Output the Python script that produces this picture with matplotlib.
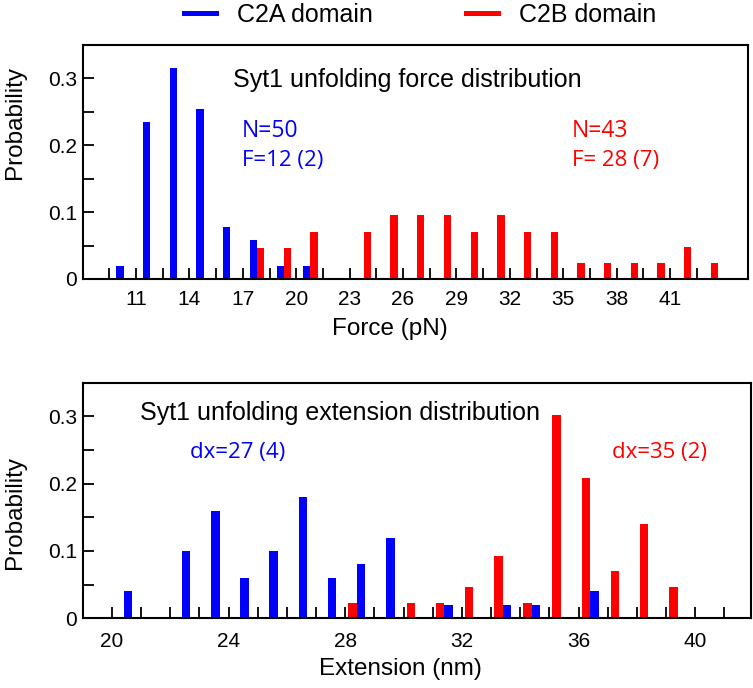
import matplotlib
matplotlib.use("Agg")
import matplotlib.pyplot as plt
from matplotlib.lines import Line2D
from matplotlib.ticker import FixedLocator, FuncFormatter
import numpy as np

plt.rcParams['font.family'] = ['Liberation Sans', 'DejaVu Sans']

# force histogram (pN), probability
c2a_force = [10.1, 11.6, 13.1, 14.6, 16.1, 17.6, 19.1, 20.6]
c2a_force_p = [0.02, 0.235, 0.315, 0.255, 0.078, 0.059, 0.02, 0.02]
c2b_force = [18.0, 19.5, 21.0, 24.0, 25.5, 27.0, 28.5, 30.0, 31.5, 33.0,
             34.5, 36.0, 37.5, 39.0, 40.5, 42.0, 43.5]
c2b_force_p = [0.047, 0.047, 0.071, 0.071, 0.095, 0.095, 0.095, 0.071, 0.095, 0.071,
               0.071, 0.024, 0.024, 0.024, 0.024, 0.048, 0.024]

# extension histogram (nm), probability
c2a_ext = [20.55, 22.55, 23.55, 24.55, 25.55, 26.55, 27.55, 28.55, 29.55,
           31.55, 33.55, 34.55, 36.55]
c2a_ext_p = [0.04, 0.10, 0.16, 0.06, 0.10, 0.18, 0.06, 0.08, 0.12,
             0.02, 0.02, 0.02, 0.04]
c2b_ext = [28.25, 30.25, 31.25, 32.25, 33.25, 34.25, 35.25, 36.25, 37.25, 38.25, 39.25]
c2b_ext_p = [0.023, 0.023, 0.023, 0.046, 0.093, 0.023, 0.302, 0.209, 0.07, 0.14, 0.046]

force_labels = [11, 14, 17, 20, 23, 26, 29, 32, 35, 38, 41]
ext_labels = [20, 24, 28, 32, 36, 40]

BLUE = '#0000ff'
RED = '#ff0000'
annot_font = ['Open Sans', 'DejaVu Sans']

fig = plt.figure(figsize=(7.53, 6.88), dpi=100)
ax1 = fig.add_axes([0.1098, 0.5945, 0.884, 0.340])
ax2 = fig.add_axes([0.1098, 0.1013, 0.887, 0.3424])


def style_axis(ax):
    for s in ax.spines.values():
        s.set_linewidth(1.5)
    ax.set_ylim(0, 0.35)
    ax.yaxis.set_major_locator(FixedLocator([0, 0.1, 0.2, 0.3]))
    ax.yaxis.set_minor_locator(FixedLocator([0.05, 0.15, 0.25]))
    ax.yaxis.set_major_formatter(FuncFormatter(lambda v, p: '0' if v == 0 else '%g' % v))
    ax.tick_params(which='both', direction='in', length=8, width=1.3,
                   top=False, right=False, labelsize=15)
    ax.tick_params(axis='y', pad=4)


# top panel: force
ax1.bar(c2a_force, c2a_force_p, width=0.41, color=BLUE)
ax1.bar(c2b_force, c2b_force_p, width=0.41, color=RED)
ax1.set_xlim(8, 45.4)
style_axis(ax1)
ax1.xaxis.set_major_locator(FixedLocator(force_labels))
ax1.xaxis.set_minor_locator(FixedLocator(list(np.arange(9.5, 44.1, 3))))
ax1.tick_params(axis='x', pad=8)
ax1.set_xlabel('Force (pN)', fontsize=17.5)
ax1.xaxis.set_label_coords(0.4617, -0.165)
ax1.set_ylabel('Probability', fontsize=17.5)
ax1.yaxis.set_label_coords(-0.085, 0.669)
ax1.text(0.2258, 0.822, 'Syt1 unfolding force distribution', transform=ax1.transAxes,
         fontsize=18, va='baseline')
ax1.text(0.239, 0.609, 'N=50', transform=ax1.transAxes, color=BLUE,
         fontsize=16.5, family=annot_font, va='baseline')
ax1.text(0.239, 0.481, 'F=12 (2)', transform=ax1.transAxes, color=BLUE,
         fontsize=16, family=annot_font, va='baseline')
ax1.text(0.7347, 0.609, 'N=43', transform=ax1.transAxes, color=RED,
         fontsize=16.5, family=annot_font, va='baseline')
ax1.text(0.7347, 0.481, 'F= 28 (7)', transform=ax1.transAxes, color=RED,
         fontsize=16, family=annot_font, va='baseline')

# bottom panel: extension
ax2.bar(c2a_ext, c2a_ext_p, width=0.29, color=BLUE)
ax2.bar(c2b_ext, c2b_ext_p, width=0.29, color=RED)
ax2.set_xlim(19, 41.9)
style_axis(ax2)
ax2.xaxis.set_major_locator(FixedLocator(ext_labels))
ax2.xaxis.set_minor_locator(FixedLocator([v for v in range(19, 42) if v not in ext_labels]))
ax2.tick_params(axis='x', pad=10)
ax2.set_xlabel('Extension (nm)', fontsize=17.5)
ax2.xaxis.set_label_coords(0.476, -0.1685)
ax2.set_ylabel('Probability', fontsize=17.5)
ax2.yaxis.set_label_coords(-0.085, 0.449)
ax2.text(0.0858, 0.8417, 'Syt1 unfolding extension distribution', transform=ax2.transAxes,
         fontsize=18, va='baseline')
ax2.text(0.1608, 0.679, 'dx=27 (4)', transform=ax2.transAxes, color=BLUE,
         fontsize=16, family=annot_font, va='baseline')
ax2.text(0.792, 0.679, 'dx=35 (2)', transform=ax2.transAxes, color=RED,
         fontsize=16, family=annot_font, va='baseline')

# legend on top
handles = [Line2D([], [], color=BLUE, lw=3.6), Line2D([], [], color=RED, lw=3.6)]
fig.legend(handles, ['C2A domain', 'C2B domain'], ncol=2, frameon=False,
           fontsize=18, handlelength=1.3, handletextpad=0.85, columnspacing=3.7,
           loc='center left', bbox_to_anchor=(161 / 753, 1 - 15 / 688))

fig.savefig('out.png', dpi=100)
